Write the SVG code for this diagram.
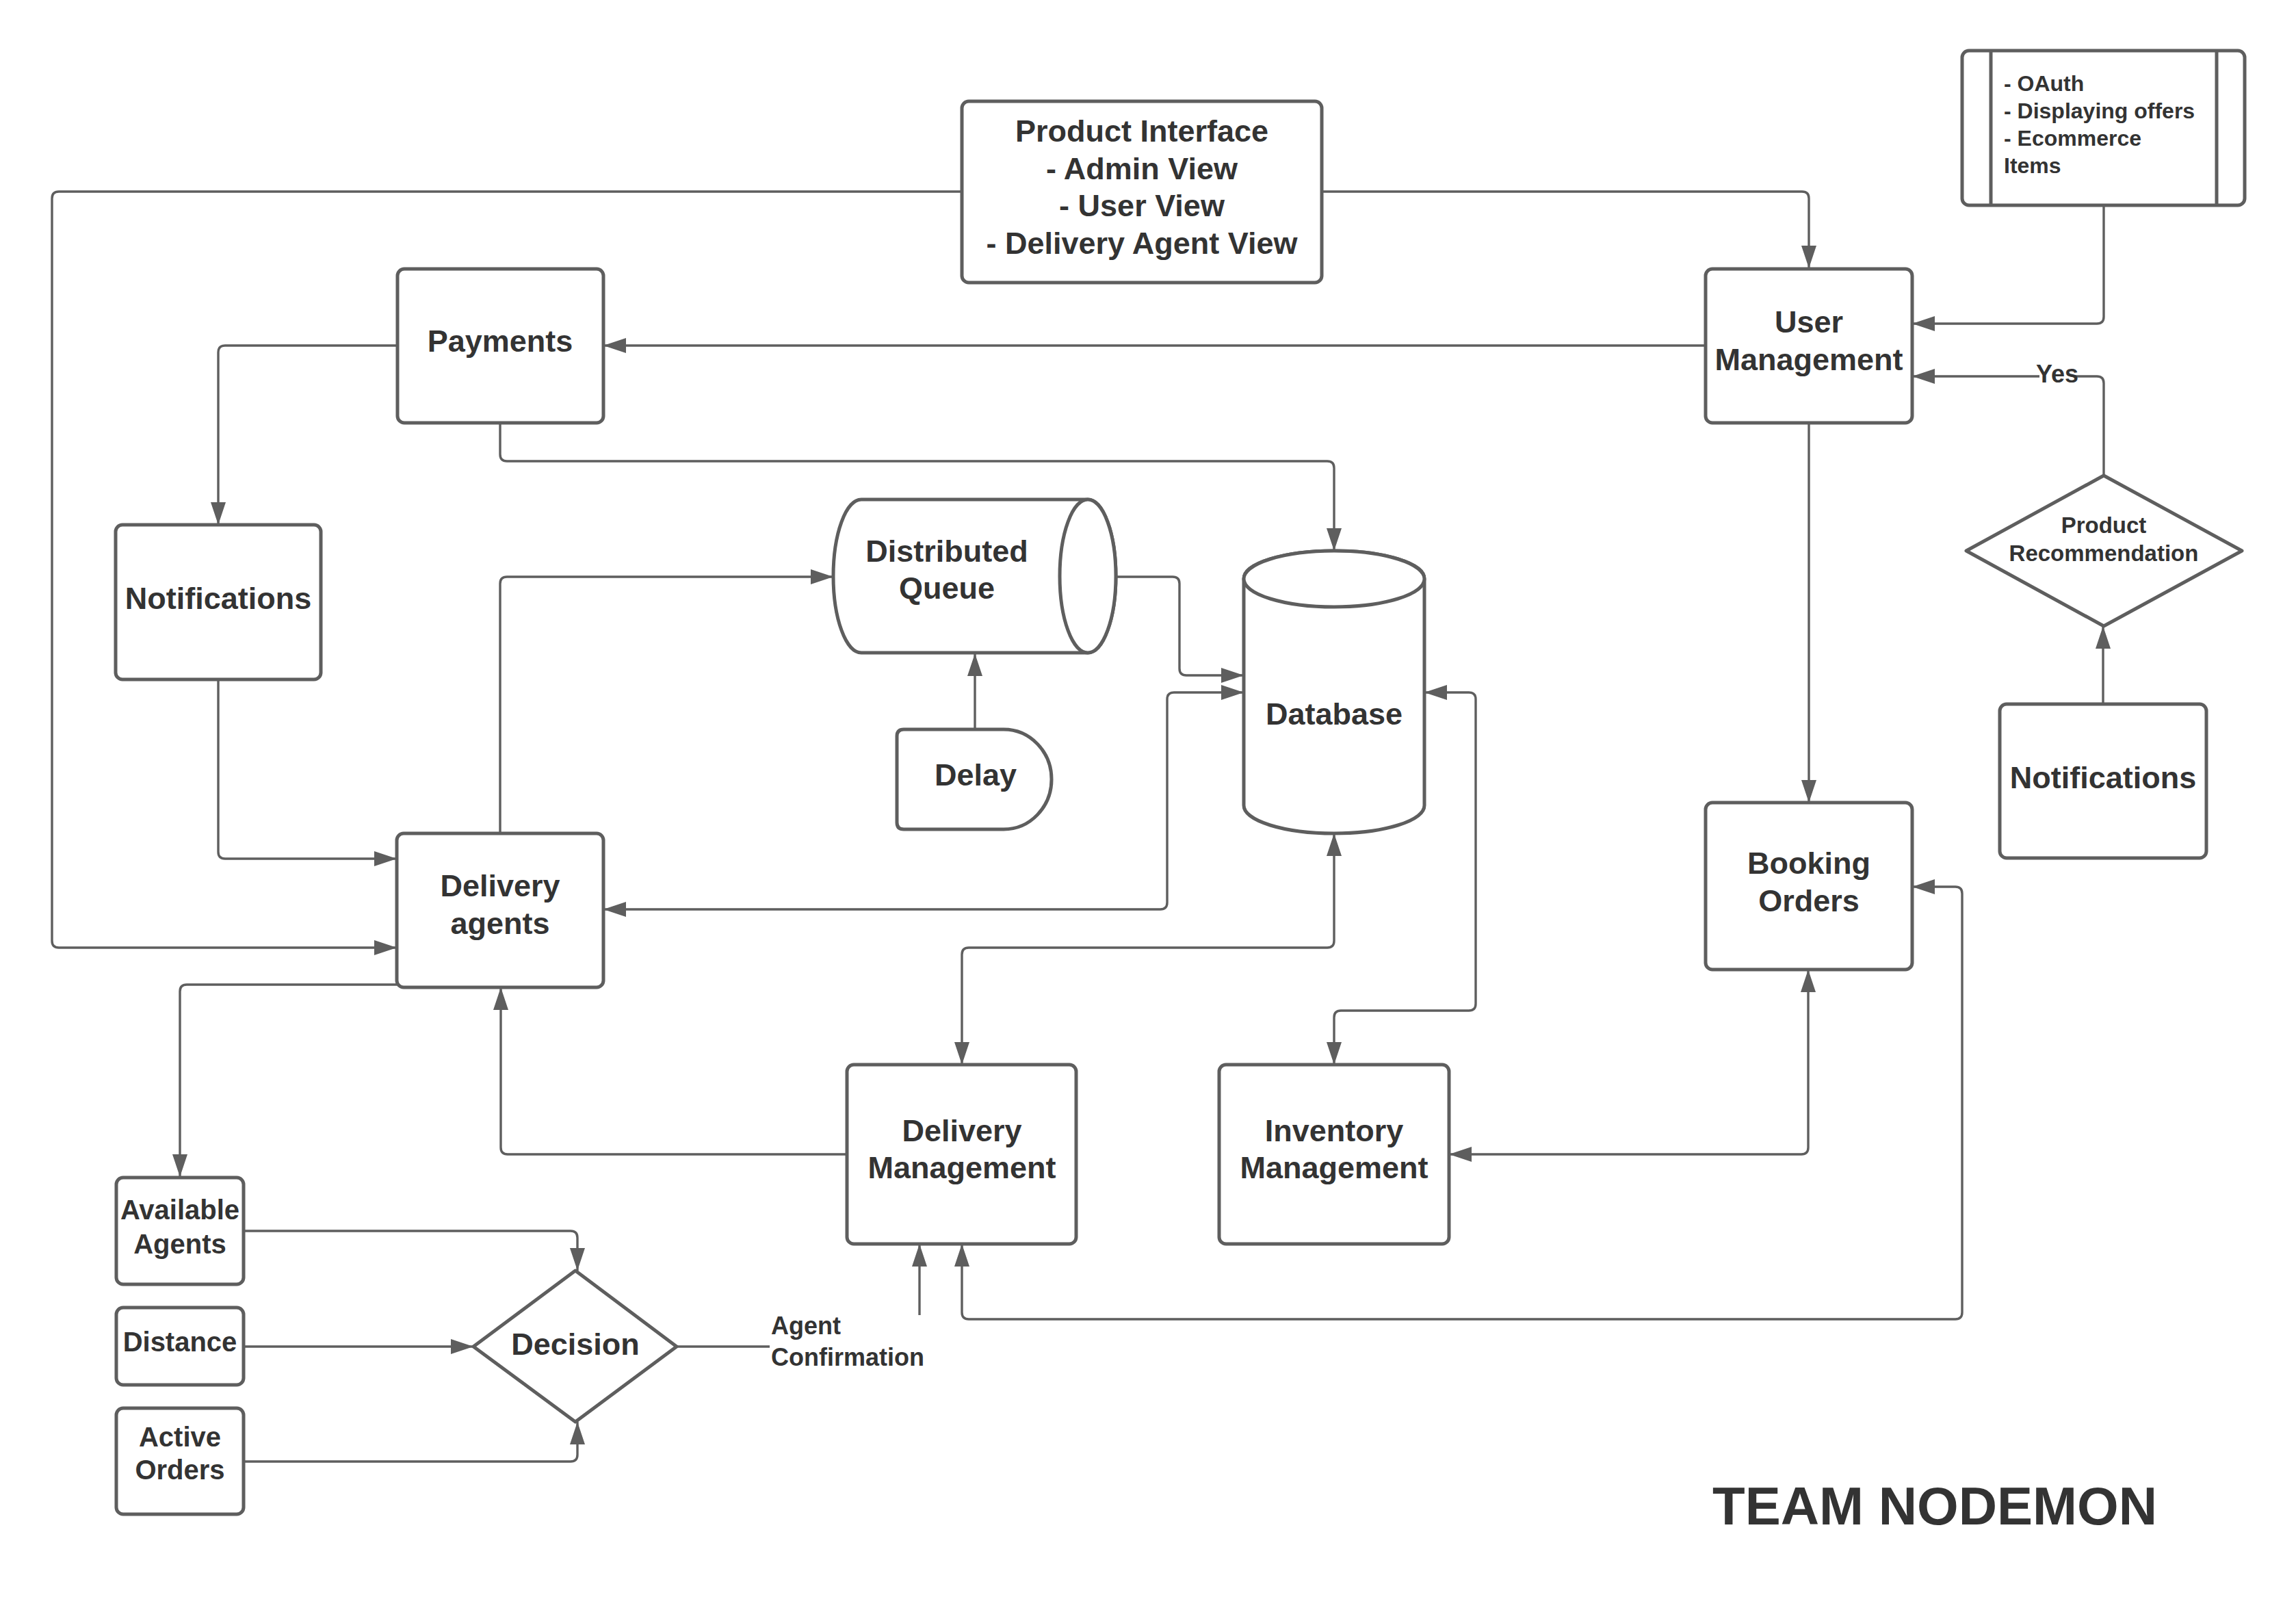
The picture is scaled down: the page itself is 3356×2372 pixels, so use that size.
<svg xmlns="http://www.w3.org/2000/svg" width="3356" height="2372" viewBox="0 0 3356 2372">
<style>
.n{fill:#ffffff;stroke:#5e5e5e;stroke-width:5;stroke-linejoin:round}
.c{fill:none;stroke:#5e5e5e;stroke-width:3.4;stroke-linejoin:round}
.a{marker-end:url(#ah)}
.b{marker-start:url(#ah);marker-end:url(#ah)}
text{font-family:"Liberation Sans",Arial,sans-serif;font-weight:bold;fill:#333333}
.t{font-size:45px;text-anchor:middle}
.s{font-size:40px;text-anchor:middle}
.l{font-size:36px}
</style>
<defs>
<marker id="ah" markerUnits="userSpaceOnUse" markerWidth="34" markerHeight="24" refX="33" refY="11" orient="auto-start-reverse" viewBox="0 0 34 22">
<path d="M0,0 L33,11 L0,22 Z" fill="#5e5e5e"/>
</marker>
</defs>
<rect width="3356" height="2372" fill="#ffffff"/>
<g id="connectors">
<path class="c a" d="M1932,280 L2634,280 Q2644,280 2644,290 L2644,392"/>
<path class="c a" d="M1406,280 L86,280 Q76,280 76,290 L76,1375 Q76,1385 86,1385 L580,1385"/>
<path class="c a" d="M2493,505 L882,505"/>
<path class="c a" d="M580,505 L329,505 Q319,505 319,515 L319,767"/>
<path class="c a" d="M731,618 L731,664 Q731,674 741,674 L1940,674 Q1950,674 1950,684 L1950,805"/>
<path class="c a" d="M319,993 L319,1245 Q319,1255 329,1255 L580,1255"/>
<path class="c a" d="M731,1218 L731,853 Q731,843 741,843 L1218,843"/>
<path class="c a" d="M1631,843 L1714,843 Q1724,843 1724,853 L1724,977 Q1724,987 1734,987 L1818,987"/>
<path class="c a" d="M1425,1066 L1425,955"/>
<path class="c b" d="M882,1329 L1696,1329 Q1706,1329 1706,1319 L1706,1022 Q1706,1012 1716,1012 L1818,1012"/>
<path class="c b" d="M2082,1012 L2147,1012 Q2157,1012 2157,1022 L2157,1467 Q2157,1477 2147,1477 L1960,1477 Q1950,1477 1950,1487 L1950,1556"/>
<path class="c b" d="M1950,1218 L1950,1375 Q1950,1385 1940,1385 L1416,1385 Q1406,1385 1406,1395 L1406,1556"/>
<path class="c a" d="M1238,1687 L742,1687 Q732,1687 732,1677 L732,1443"/>
<path class="c b" d="M2118,1687 L2633,1687 Q2643,1687 2643,1677 L2643,1417"/>
<path class="c b" d="M2795,1296 L2858,1296 Q2868,1296 2868,1306 L2868,1918 Q2868,1928 2858,1928 L1416,1928 Q1406,1928 1406,1918 L1406,1818"/>
<path class="c a" d="M1344,1922 L1344,1818"/>
<path class="c a" d="M2644,618 L2644,1173"/>
<path class="c a" d="M3075,300 L3075,463 Q3075,473 3065,473 L2795,473"/>
<path class="c a" d="M3075,695 L3075,560 Q3075,550 3065,550 L2795,550"/>
<path class="c a" d="M3074,1029 L3074,915"/>
<path class="c a" d="M580,1439 L273,1439 Q263,1439 263,1449 L263,1720"/>
<path class="c a" d="M357,1799 L834,1799 Q844,1799 844,1809 L844,1857"/>
<path class="c a" d="M357,1968 L692,1968"/>
<path class="c a" d="M357,2136 L834,2136 Q844,2136 844,2126 L844,2078"/>
<path class="c" d="M989,1968 L1125,1968"/>
<rect x="2981" y="526" width="52" height="36" fill="#ffffff"/>
<text class="l" x="3007" y="559" text-anchor="middle">Yes</text>
<text class="l" x="1127" y="1950">Agent</text>
<text class="l" x="1127" y="1996">Confirmation</text>
</g>
<g id="product-interface">
<rect class="n" x="1406" y="148" width="526" height="265" rx="10"/>
<text class="t" x="1669" y="207">Product Interface</text>
<text class="t" x="1669" y="262">- Admin View</text>
<text class="t" x="1669" y="316">- User View</text>
<text class="t" x="1669" y="371">- Delivery Agent View</text>
</g>
<g id="oauth-note">
<rect class="n" x="2868" y="74" width="413" height="226" rx="10"/>
<line class="n" x1="2910" y1="74" x2="2910" y2="300"/>
<line class="n" x1="3240" y1="74" x2="3240" y2="300"/>
<text x="2929" y="133" font-size="32">- OAuth</text>
<text x="2929" y="173" font-size="32">- Displaying offers</text>
<text x="2929" y="213" font-size="32">- Ecommerce</text>
<text x="2929" y="253" font-size="32">Items</text>
</g>
<g id="user-management">
<rect class="n" x="2493" y="393" width="302" height="225" rx="10"/>
<text class="t" x="2644" y="486">User</text>
<text class="t" x="2644" y="541">Management</text>
</g>
<g id="payments">
<rect class="n" x="581" y="393" width="301" height="225" rx="10"/>
<text class="t" x="731" y="514">Payments</text>
</g>
<g id="notifications-left">
<rect class="n" x="169" y="767" width="300" height="226" rx="10"/>
<text class="t" x="319" y="890">Notifications</text>
</g>
<g id="distributed-queue">
<path class="n" d="M1259,730 L1590,730 A41,112 0 0 1 1590,954 L1259,954 A41,112 0 0 1 1259,730 Z"/>
<ellipse class="n" cx="1590" cy="842" rx="41" ry="112"/>
<text class="t" x="1384" y="821">Distributed</text>
<text class="t" x="1384" y="875">Queue</text>
</g>
<g id="database">
<path class="n" d="M1818,846 A132,41 0 0 1 2082,846 L2082,1177 A132,41 0 0 1 1818,1177 Z"/>
<ellipse class="n" cx="1950" cy="846" rx="132" ry="41"/>
<text class="t" x="1950" y="1059">Database</text>
</g>
<g id="delay">
<path class="n" d="M1321,1066 L1467,1066 A70,73 0 0 1 1467,1212 L1321,1212 Q1311,1212 1311,1202 L1311,1076 Q1311,1066 1321,1066 Z"/>
<text class="t" x="1426" y="1148">Delay</text>
</g>
<g id="delivery-agents">
<rect class="n" x="580" y="1218" width="302" height="225" rx="10"/>
<text class="t" x="731" y="1310">Delivery</text>
<text class="t" x="731" y="1365">agents</text>
</g>
<g id="booking-orders">
<rect class="n" x="2493" y="1173" width="302" height="244" rx="10"/>
<text class="t" x="2644" y="1277">Booking</text>
<text class="t" x="2644" y="1332">Orders</text>
</g>
<g id="product-recommendation">
<polygon class="n" points="3075,695 3277,805 3075,915 2874,805"/>
<text x="3075" y="779" font-size="33" text-anchor="middle">Product</text>
<text x="3075" y="820" font-size="33" text-anchor="middle">Recommendation</text>
</g>
<g id="notifications-right">
<rect class="n" x="2923" y="1029" width="302" height="225" rx="10"/>
<text class="t" x="3074" y="1152">Notifications</text>
</g>
<g id="delivery-management">
<rect class="n" x="1238" y="1556" width="335" height="262" rx="10"/>
<text class="t" x="1406" y="1668">Delivery</text>
<text class="t" x="1406" y="1722">Management</text>
</g>
<g id="inventory-management">
<rect class="n" x="1782" y="1556" width="336" height="262" rx="10"/>
<text class="t" x="1950" y="1668">Inventory</text>
<text class="t" x="1950" y="1722">Management</text>
</g>
<g id="available-agents">
<rect class="n" x="170" y="1721" width="186" height="156" rx="10"/>
<text class="s" x="263" y="1782">Available</text>
<text class="s" x="263" y="1832">Agents</text>
</g>
<g id="distance">
<rect class="n" x="170" y="1911" width="186" height="113" rx="10"/>
<text class="s" x="263" y="1975">Distance</text>
</g>
<g id="active-orders">
<rect class="n" x="170" y="2058" width="186" height="155" rx="10"/>
<text class="s" x="263" y="2114">Active</text>
<text class="s" x="263" y="2162">Orders</text>
</g>
<g id="decision">
<polygon class="n" points="841,1857 989,1968 841,2078 692,1968"/>
<text class="t" x="841" y="1980">Decision</text>
</g>
<g id="title">
<text x="2503" y="2228" font-size="78">TEAM NODEMON</text>
</g>
</svg>
